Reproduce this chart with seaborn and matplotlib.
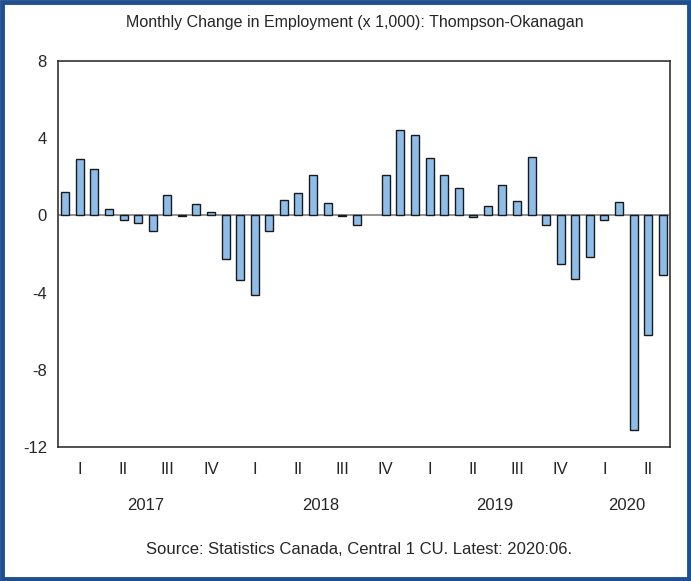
import pandas as pd
import matplotlib.pyplot as plt
import matplotlib.transforms as mtransforms
from matplotlib.patches import Rectangle
import seaborn as sns

# Monthly change in employment (x 1,000), Jan 2017 - Jun 2020
years = [2017, 2018, 2019, 2020]
months_per_year = [12, 12, 12, 6]
quarter_labels = ["I", "II", "III", "IV"]
changes = [
    1.2, 2.9, 2.4, 0.35, -0.24, -0.38, -0.79, 1.07, -0.05, 0.59, 0.19, -2.25,
    -3.33, -4.11, -0.83, 0.78, 1.16, 2.11, 0.66, -0.05, -0.52, 0.0, 2.11, 4.44,
    4.18, 2.99, 2.07, 1.42, -0.07, 0.48, 1.55, 0.74, 3.04, -0.5, -2.52, -3.3,
    -2.16, -0.26, 0.71, -11.1, -6.2, -3.07,
]
y_ticks = [8, 4, 0, -4, -8, -12]

periods = [f"{y}-{m:02d}" for y, n in zip(years, months_per_year) for m in range(1, n + 1)]
df = pd.DataFrame({"period": periods, "change": changes})

sns.set_style("white")
plt.rcParams["font.family"] = ["Liberation Sans", "DejaVu Sans"]

fig = plt.figure(figsize=(6.91, 5.81), dpi=100)
ax = fig.add_axes([58 / 691, 1 - 447 / 581, (670 - 58) / 691, (447 - 61) / 581])

sns.barplot(data=df, x="period", y="change", color="#8DBDE8", saturation=1,
            edgecolor="#1a1a1a", linewidth=1.0, width=0.55, ax=ax)
# no outline for a flat (zero) bar
for p in ax.patches:
    if p.get_height() == 0:
        p.set_linewidth(0)
ax.axhline(0, color="#7f7f7f", linewidth=1.2, zorder=0)

n = len(changes)
ax.set_xlim(-0.5, n - 0.5)
ax.set_ylim(-12, 8)
ax.set_yticks(y_ticks)
ax.set_yticklabels([str(t) for t in y_ticks], fontsize=12)
ax.set_xlabel("")
ax.set_ylabel("")

# month ticks (short) and quarter ticks (long)
ax.set_xticks([q * 3 - 0.5 for q in range(n // 3 + 1)])
ax.set_xticklabels([])
ax.set_xticks([k - 0.5 for k in range(n + 1)], minor=True)
ax.tick_params(axis="x", which="major", direction="out", length=8, width=1, color="#222222")
ax.tick_params(axis="x", which="minor", direction="out", length=4, width=1, color="#222222")
ax.tick_params(axis="y", direction="out", length=4, width=1, color="#222222", pad=4)

for side in ["left", "bottom", "top", "right"]:
    ax.spines[side].set_visible(True)
    ax.spines[side].set_color("#333333")
    ax.spines[side].set_linewidth(1.2)

# quarter and year labels under the axis
trans = mtransforms.blended_transform_factory(ax.transData, fig.transFigure)
start = 0
for y, cnt in zip(years, months_per_year):
    for q in range(cnt // 3):
        ax.text(start + q * 3 + 1, 1 - 470 / 581, quarter_labels[q], transform=trans,
                ha="center", va="center", fontsize=12)
    ax.text(start + cnt / 2 - 0.5, 1 - 505 / 581, str(y), transform=trans,
            ha="center", va="center", fontsize=12)
    start += cnt

fig.text(355 / 691, 1 - 22 / 581, "Monthly Change in Employment (x 1,000): Thompson-Okanagan",
         ha="center", va="center", fontsize=11.5)
fig.text(359 / 691, 1 - 549 / 581, "Source: Statistics Canada, Central 1 CU. Latest: 2020:06.",
         ha="center", va="center", fontsize=12)

# dark blue frame around the figure
fig.patches.append(Rectangle((0.0025, 0.003), 0.995, 0.994, transform=fig.transFigure,
                             fill=False, edgecolor="#1F4F8F", linewidth=3.5))

fig.savefig("out.png", dpi=100)
